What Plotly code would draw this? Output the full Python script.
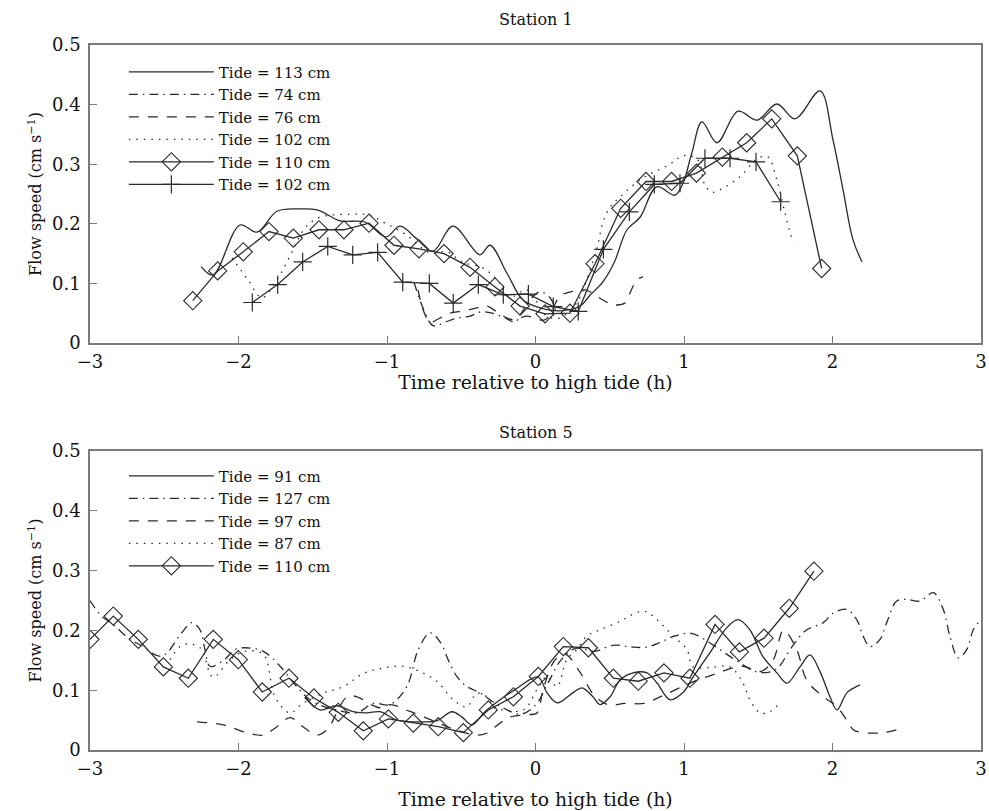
import plotly.graph_objects as go

# ---------------- Station 1 data ----------------
s1_t113_x = [-2.252,-2.172,-1.990,-1.875,-1.741,-1.586,-1.465,-1.316,-1.148,-1.007,-0.912,-0.805,-0.690,-0.556,-0.374,-0.306,-0.192,-0.084,0.030,0.165,0.300,0.367,0.455,0.530,0.616,0.704,0.816,0.939,0.993,1.052,1.121,1.222,1.364,1.492,1.626,1.747,1.916,2.003,2.071,2.138,2.199]
s1_t113_y = [0.128,0.114,0.198,0.186,0.221,0.225,0.223,0.205,0.203,0.178,0.196,0.176,0.154,0.196,0.148,0.164,0.117,0.072,0.059,0.054,0.062,0.080,0.103,0.135,0.190,0.211,0.262,0.248,0.268,0.318,0.371,0.336,0.389,0.374,0.401,0.376,0.423,0.341,0.257,0.173,0.136]

s1_t74_x = [-0.818,-0.758,-0.690,-0.609,-0.522,-0.441,-0.374,-0.293,-0.205,-0.138,-0.091,-0.024,0.030,0.098,0.138]
s1_t74_y = [0.102,0.059,0.029,0.035,0.042,0.045,0.052,0.050,0.042,0.035,0.052,0.076,0.086,0.076,0.052]

s1_t76_x = [-0.791,-0.751,-0.710,-0.643,-0.576,-0.475,-0.394,-0.327,-0.259,-0.158,-0.057,0.064,0.165,0.212,0.333,0.468,0.529,0.603,0.636,0.684,0.724]
s1_t76_y = [0.089,0.052,0.035,0.042,0.050,0.054,0.059,0.062,0.052,0.039,0.045,0.039,0.079,0.084,0.089,0.070,0.064,0.067,0.084,0.106,0.111]

s1_t102d_x = [-2.044,-1.936,-1.842,-1.741,-1.633,-1.552,-1.451,-1.249,-1.128,-1.013,-0.879,-0.710,-0.596,-0.495,-0.354,-0.259,-0.172,-0.057,0.077,0.165,0.253,0.300,0.367,0.414,0.455,0.502,0.569,0.724,0.906,0.960,1.020,1.094,1.141,1.189,1.242,1.377,1.498,1.566,1.626,1.680,1.734]
s1_t102d_y = [0.143,0.106,0.076,0.106,0.156,0.193,0.211,0.216,0.215,0.201,0.183,0.151,0.153,0.136,0.126,0.106,0.077,0.089,0.045,0.042,0.060,0.077,0.122,0.159,0.203,0.228,0.245,0.277,0.300,0.310,0.315,0.307,0.265,0.253,0.257,0.279,0.310,0.312,0.273,0.218,0.168]

s1_t110_x = [-2.308,-2.140,-1.968,-1.795,-1.631,-1.458,-1.290,-1.121,-0.953,-0.785,-0.616,-0.441,-0.273,-0.104,0.064,0.232,0.401,0.574,0.744,0.916,1.084,1.258,1.422,1.591,1.763,1.927]
s1_t110_y = [0.071,0.121,0.153,0.187,0.176,0.190,0.190,0.201,0.164,0.158,0.150,0.127,0.094,0.062,0.049,0.050,0.133,0.226,0.271,0.271,0.285,0.312,0.336,0.376,0.314,0.125]

s1_t102p_x = [-1.907,-1.736,-1.568,-1.399,-1.231,-1.063,-0.894,-0.715,-0.554,-0.385,-0.217,-0.048,0.120,0.288,0.457,0.632,0.800,0.973,1.141,1.310,1.485,1.651]
s1_t102p_y = [0.068,0.098,0.136,0.162,0.148,0.152,0.102,0.100,0.067,0.098,0.081,0.082,0.061,0.053,0.157,0.220,0.266,0.268,0.310,0.310,0.304,0.237]

# ---------------- Station 5 data ----------------
s5_t91_x = [-1.55,-1.451,-1.337,-1.229,-1.135,-1.047,-0.933,-0.778,-0.663,-0.562,-0.495,-0.428,-0.340,-0.239,-0.138,0.017,0.077,0.145,0.253,0.313,0.387,0.434,0.502,0.569,0.657,0.751,0.818,0.906,0.993,1.061,1.175,1.290,1.364,1.444,1.532,1.626,1.694,1.781,1.848,1.916,1.983,2.030,2.098,2.185]
s5_t91_y = [0.089,0.067,0.074,0.064,0.062,0.064,0.050,0.047,0.049,0.064,0.055,0.042,0.064,0.084,0.101,0.122,0.096,0.079,0.096,0.104,0.089,0.076,0.089,0.117,0.129,0.129,0.112,0.084,0.096,0.122,0.163,0.205,0.218,0.201,0.156,0.129,0.112,0.139,0.159,0.131,0.089,0.067,0.096,0.109]

s5_t127_x = [-3.0,-2.933,-2.832,-2.73,-2.663,-2.517,-2.383,-2.315,-2.259,-2.226,-2.192,-2.10,-2.024,-1.956,-1.833,-1.720,-1.608,-1.519,-1.429,-1.339,-1.204,-1.092,-0.980,-0.867,-0.789,-0.71,-0.64,-0.59,-0.53,-0.46,-0.37,-0.25,-0.10,0.0,0.08,0.17,0.27,0.40,0.52,0.66,0.75,0.84,0.93,1.05,1.20,1.35,1.50,1.62,1.72,1.82,1.938,2.005,2.096,2.163,2.207,2.253,2.320,2.365,2.432,2.500,2.589,2.679,2.746,2.791,2.847,2.904,2.948,3.0]
s5_t127_y = [0.250,0.227,0.207,0.185,0.176,0.157,0.196,0.213,0.201,0.168,0.140,0.150,0.168,0.171,0.165,0.140,0.106,0.084,0.073,0.067,0.062,0.078,0.076,0.106,0.168,0.196,0.180,0.152,0.123,0.106,0.095,0.075,0.060,0.075,0.110,0.150,0.170,0.165,0.175,0.172,0.172,0.180,0.190,0.195,0.175,0.150,0.130,0.135,0.170,0.200,0.213,0.229,0.235,0.218,0.190,0.173,0.185,0.213,0.249,0.252,0.249,0.263,0.235,0.190,0.154,0.168,0.201,0.218]

s5_t97_x = [-2.279,-2.104,-1.943,-1.835,-1.741,-1.653,-1.566,-1.471,-1.404,-1.269,-1.202,-1.10,-1.027,-0.98,-0.85,-0.70,-0.55,-0.396,-0.329,-0.239,-0.172,-0.057,0.010,0.05,0.13,0.20,0.30,0.40,0.50,0.60,0.73,0.85,1.04,1.197,1.399,1.512,1.60,1.67,1.759,1.826,1.938,2.028,2.096,2.140,2.207,2.342,2.432]
s5_t97_y = [0.047,0.042,0.029,0.025,0.039,0.054,0.039,0.025,0.034,0.089,0.089,0.075,0.070,0.076,0.065,0.050,0.035,0.025,0.028,0.045,0.055,0.059,0.062,0.100,0.150,0.160,0.130,0.090,0.075,0.078,0.078,0.090,0.112,0.126,0.140,0.131,0.150,0.200,0.168,0.117,0.089,0.073,0.050,0.034,0.029,0.029,0.034]

s5_t87_x = [-2.461,-2.374,-2.259,-2.172,-2.057,-1.956,-1.833,-1.754,-1.653,-1.566,-1.429,-1.294,-1.159,-1.024,-0.889,-0.778,-0.665,-0.553,-0.463,-0.395,-0.328,-0.283,-0.215,-0.080,0.010,0.077,0.145,0.210,0.277,0.345,0.434,0.569,0.657,0.737,0.818,0.886,0.953,1.020,1.061,1.175,1.310,1.397,1.444,1.512,1.579,1.646]
s5_t87_y = [0.151,0.176,0.171,0.122,0.151,0.165,0.160,0.089,0.062,0.078,0.095,0.106,0.128,0.137,0.140,0.131,0.115,0.084,0.072,0.095,0.089,0.072,0.067,0.067,0.101,0.123,0.106,0.151,0.168,0.190,0.201,0.215,0.227,0.232,0.218,0.201,0.185,0.168,0.139,0.138,0.139,0.112,0.084,0.062,0.064,0.079]

s5_t110_x = [-3.0,-2.843,-2.675,-2.506,-2.338,-2.170,-2.001,-1.840,-1.660,-1.492,-1.328,-1.160,-0.991,-0.823,-0.655,-0.486,-0.318,-0.149,0.019,0.187,0.356,0.524,0.692,0.865,1.040,1.209,1.373,1.539,1.709,1.875]
s5_t110_y = [0.185,0.224,0.185,0.139,0.120,0.185,0.151,0.097,0.120,0.087,0.063,0.032,0.052,0.045,0.039,0.029,0.067,0.089,0.123,0.173,0.171,0.120,0.115,0.129,0.120,0.210,0.164,0.187,0.237,0.299]

x_ticks = [-3, -2, -1, 0, 1, 2, 3]
y_ticks = [0, 0.1, 0.2, 0.3, 0.4, 0.5]

FONT = "DejaVu Serif"
INK = "#2b2b2b"
LW = 1.3

fig = go.Figure()

def add(x, y, name, dash="solid", shape="spline", marker=None, xa="x", ya="y", legend="legend"):
    kw = dict(x=x, y=y, name=name, xaxis=xa, yaxis=ya, legend=legend,
              line=dict(color=INK, width=LW, dash=dash, shape=shape, smoothing=1.0))
    if marker:
        kw["mode"] = "lines+markers"
        kw["marker"] = marker
    else:
        kw["mode"] = "lines"
    fig.add_trace(go.Scatter(**kw))

DASHDOT = "9px,5px,1.5px,5px"
DASH = "10px,9px"
DOT = "1.5px,6px"
diamond = dict(symbol="diamond-open", size=14, color=INK, line=dict(width=1.1, color=INK))
plus = dict(symbol="cross-thin", size=13, color=INK, line=dict(width=1.2, color=INK))

# Station 1
add(s1_t113_x, s1_t113_y, "Tide = 113 cm")
add(s1_t74_x, s1_t74_y, "Tide = 74 cm", dash=DASHDOT)
add(s1_t76_x, s1_t76_y, "Tide = 76 cm", dash=DASH)
add(s1_t102d_x, s1_t102d_y, "Tide = 102 cm", dash=DOT)
add(s1_t110_x, s1_t110_y, "Tide = 110 cm", shape="linear", marker=diamond)
add(s1_t102p_x, s1_t102p_y, "Tide = 102 cm", shape="linear", marker=plus)

# Station 5
add(s5_t91_x, s5_t91_y, "Tide = 91 cm", xa="x2", ya="y2", legend="legend2")
add(s5_t127_x, s5_t127_y, "Tide = 127 cm", dash=DASHDOT, xa="x2", ya="y2", legend="legend2")
add(s5_t97_x, s5_t97_y, "Tide = 97 cm", dash=DASH, xa="x2", ya="y2", legend="legend2")
add(s5_t87_x, s5_t87_y, "Tide = 87 cm", dash=DOT, xa="x2", ya="y2", legend="legend2")
add(s5_t110_x, s5_t110_y, "Tide = 110 cm", shape="linear", marker=diamond, xa="x2", ya="y2", legend="legend2")

axis_common = dict(showline=True, linecolor="#7a7a7a", linewidth=1.5, mirror=True,
                   ticks="inside", ticklen=7, tickcolor="#7a7a7a", tickwidth=1.3,
                   showgrid=False, zeroline=False, automargin=False,
                   ticklabeloverflow="allow",
                   tickfont=dict(family=FONT, size=18, color="#111"))

def xaxis_cfg(standoff):
    return dict(axis_common, range=[-3, 3], tickvals=x_ticks,
                ticktext=[("\u2212" + str(-v)) if v < 0 else str(v) for v in x_ticks],
                ticklabelstandoff=2,
                title=dict(text="Time relative to high tide (h)", standoff=standoff,
                           font=dict(family=FONT, size=18.8, color="#111")))

yaxis_common = dict(axis_common, range=[0, 0.5], tickvals=y_ticks,
                    ticktext=[("0" if v == 0 else str(v)) for v in y_ticks],
                    ticklabelstandoff=4,
                    title=dict(text="Flow speed (cm s<sup>\u22121</sup>)", standoff=6,
                               font=dict(family=FONT, size=16, color="#111")))

legend_common = dict(bgcolor="rgba(0,0,0,0)", font=dict(family=FONT, size=15, color="#111"),
                     xanchor="left", yanchor="top", itemwidth=85, tracegroupgap=0,
                     itemclick=False)

fig.update_layout(
    width=989, height=811,
    margin=dict(l=90, r=8, t=45, b=61),
    paper_bgcolor="white", plot_bgcolor="white",
    xaxis=dict(xaxis_cfg(4), domain=[0, 1], anchor="y"),
    yaxis=dict(yaxis_common, domain=[0.5773, 1], anchor="x"),
    xaxis2=dict(xaxis_cfg(14), domain=[0, 1], anchor="y2"),
    yaxis2=dict(yaxis_common, domain=[0, 0.4241], anchor="x2"),
    legend=dict(legend_common, x=0.038, y=0.985),
    legend2=dict(legend_common, x=0.038, y=0.412),
    annotations=[
        dict(text="Station 1", x=0.5, y=1.052, xref="paper", yref="paper",
             showarrow=False, font=dict(family=FONT, size=16, color="#111")),
        dict(text="Station 5", x=0.5, y=0.451, xref="paper", yref="paper",
             showarrow=False, font=dict(family=FONT, size=16, color="#111")),
    ],
    showlegend=True,
)

fig.write_html("out.html",
               config={"displayModeBar": False},
               post_script="document.body.style.margin='0';document.body.style.overflow='hidden';")
